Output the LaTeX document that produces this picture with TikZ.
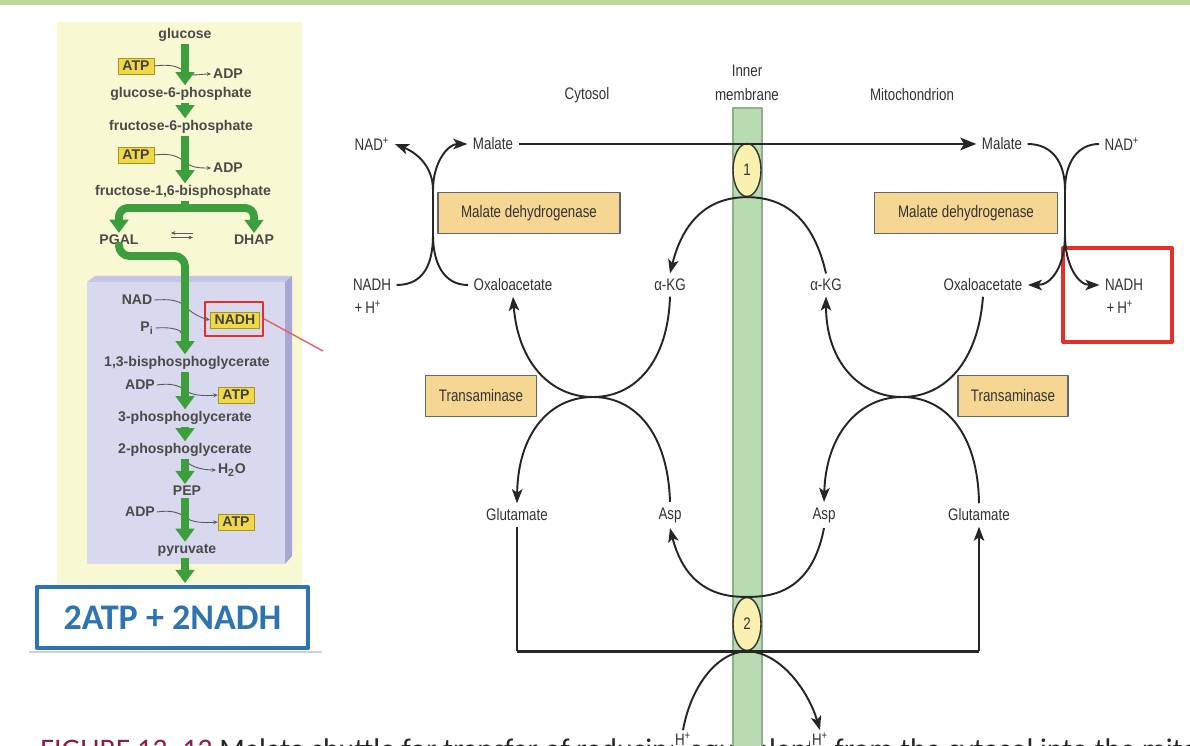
\documentclass[tikz,border=0pt]{standalone}
\usepackage{fontspec}
\setmainfont{Liberation Sans}
\newfontfamily\narrowfont{Liberation Sans}[FakeStretch=0.8]
\newfontfamily\calfont{Carlito}
\usetikzlibrary{arrows.meta,shapes.geometric}
\definecolor{topbar}{HTML}{BCD99A}
\definecolor{panelbg}{HTML}{F8F8D2}
\definecolor{lavface}{HTML}{D8D8EE}
\definecolor{lavtop}{HTML}{C6C6E6}
\definecolor{lavside}{HTML}{A9A7D6}
\definecolor{pathgreen}{HTML}{3C9E3C}
\definecolor{atpyellow}{HTML}{F0D848}
\definecolor{atpedge}{HTML}{A89520}
\definecolor{txtgray}{HTML}{4A4A4A}
\definecolor{hlred}{HTML}{E5302A}
\definecolor{ptrred}{HTML}{E06070}
\definecolor{boxblue}{HTML}{2E74B5}
\definecolor{membgreen}{HTML}{B8DBB2}
\definecolor{membedge}{HTML}{8FAF8A}
\definecolor{enzfill}{HTML}{F6D693}
\definecolor{carrfill}{HTML}{FAF0B0}
\definecolor{captred}{HTML}{8C1C4C}
\tikzset{
  met/.style={font=\fontsize{8}{9}\selectfont\bfseries, text=txtgray, inner sep=1pt},
  atpbox/.style={met, fill=atpyellow, draw=atpedge, inner xsep=2.5pt, inner ysep=1.8pt, text=black!75},
  gflow/.style={draw=pathgreen, line width=4.5pt, line cap=butt, -{Triangle[width=10.5pt,length=7.5pt]}},
  gstem/.style={draw=pathgreen, line width=4.5pt, line cap=butt},
  side/.style={draw=black!65, line width=0.5pt, -{Stealth[length=2.5pt,width=2.2pt]}},
  lbl/.style={font=\narrowfont\fontsize{9.5}{11}\selectfont, text=black!80, inner sep=3pt},
  enzyme/.style={lbl, fill=enzfill, draw=black!60, line width=0.7pt, minimum height=0.82cm},
  carrier/.style={lbl, ellipse, fill=carrfill, draw=black!80, line width=0.8pt,
    minimum width=0.56cm, minimum height=1.06cm, inner sep=0pt},
  rxn/.style={draw=black!85, line width=1.1pt},
  rxnarr/.style={rxn, -{Stealth[length=8pt,width=6pt,inset=2pt]}},
  carry/.style={draw=black!85, line width=1.7pt}
}
\begin{document}
\begin{tikzpicture}[x=0.02cm, y=-0.02cm, line join=round]
\useasboundingbox (0,0) rectangle (1190,746);
\fill[white] (0,0) rectangle (1190,746);
\fill[topbar] (0,0) rectangle (1190,5);

% glycolysis panel
\fill[panelbg] (57,22) rectangle (302,585);
\fill[lavtop] (87,282) -- (95,276) -- (292,276) -- (285,282) -- cycle;
\fill[lavside] (285,282) -- (292,276) -- (292,556) -- (285,564) -- cycle;
\fill[lavface] (87,282) rectangle (285,564);
\coordinate (stem) at (185,0);

\node[met] (glc) at (185,35) {glucose};
\node[atpbox] (atpa) at (136,66) {ATP};
\node[met] (adpa) at (228,74) {ADP};
\node[met] (g6p) at (181,94) {glucose-6-phosphate};
\node[met] (f6p) at (181,127) {fructose-6-phosphate};
\node[atpbox] (atpb) at (136,155) {ATP};
\node[met] (adpb) at (228,168) {ADP};
\node[met] (fbp) at (183,192) {fructose-1,6-bisphosphate};
\node[met] (pgal) at (119,240) {PGAL};
\node[met] (dhap) at (254,240) {DHAP};
\node[met] (nad) at (137,300) {NAD};
\node[met] (pi) at (147,328) {P\textsubscript{i}};
\node[atpbox] (nadh) at (235,320) {NADH};
\node[draw=hlred, line width=1.4pt, minimum width=1.16cm, minimum height=0.68cm] (nadhmark) at (234,319) {};
\node[met] (bpg) at (187,363) {1,3-bisphosphoglycerate};
\node[met] (adpc) at (140,385) {ADP};
\node[atpbox] (atpc) at (236,395) {ATP};
\node[met] (pgathree) at (185,418) {3-phosphoglycerate};
\node[met] (pgatwo) at (185,450) {2-phosphoglycerate};
\node[met] (water) at (232,470) {H\textsubscript{2}O};
\node[met] (pep) at (187,491) {PEP};
\node[met] (adpd) at (140,512) {ADP};
\node[atpbox] (atpd) at (236,522) {ATP};
\node[met] (pyr) at (187,550) {pyruvate};

% side reactions
\draw[side] (atpa.east) .. controls (170,64) and (178,66) .. (185,72) .. controls (192,77) and (200,74) .. (adpa.west);
\draw[side] (atpb.east) .. controls (170,153) and (178,156) .. (185,162) .. controls (192,168) and (200,168) .. (adpb.west);
\draw[side] (nad.east) .. controls (170,299) and (178,300) .. (185,306) .. controls (192,314) and (202,318) .. (nadh.west);
\draw[side] (pi.east) .. controls (170,327) and (178,329) .. (184,334);
\draw[side] (adpc.east) .. controls (170,383) and (178,385) .. (185,390) .. controls (192,396) and (205,396) .. (atpc.west);
\draw[side] (186,461) .. controls (192,468) and (205,470) .. (water.west);
\draw[side] (adpd.east) .. controls (170,510) and (178,512) .. (185,517) .. controls (192,523) and (205,523) .. (atpd.west);
\draw[side] (193,233) -- (171,233);
\draw[side] (171,237.5) -- (193,237.5);

% main pathway
\draw[gflow] (stem |- glc.south) -- (stem |- g6p.north);
\draw[gflow] (stem |- g6p.south) -- (stem |- f6p.north);
\draw[gflow] (stem |- f6p.south) -- (stem |- fbp.north);
\coordinate (split) at (185,208);
\draw[gstem] (stem |- fbp.south) -- (split);
\draw[gflow, rounded corners=5pt] (split) -| (pgal.north);
\draw[gflow, rounded corners=5pt] (split) -| (dhap.north);
\draw[gflow, rounded corners=6pt] (pgal.south) |- (185,256) -- (stem |- bpg.north);
\draw[gflow] (stem |- bpg.south) -- (stem |- pgathree.north);
\draw[gflow] (stem |- pgathree.south) -- (stem |- pgatwo.north);
\draw[gflow] (stem |- pgatwo.south) -- (stem |- pep.north);
\draw[gflow] (stem |- pep.south) -- (stem |- pyr.north);
\draw[gflow] (stem |- pyr.south) -- (185,583);

\coordinate (ptr) at (323,351);
\draw[ptrred, line width=0.8pt] (nadhmark.east) -- (ptr);

\node[draw=boxblue, fill=white, line width=2.3pt, minimum width=5.42cm, minimum height=1.22cm,
  font=\calfont\bfseries\fontsize{20.5}{24}\selectfont, text=boxblue] (total) at (172.5,617.5) {2ATP + 2NADH};
\draw[gray!35, line width=1pt] (29,652) -- (322,652);

% caption, cut by the page edge
\node[anchor=base west, inner sep=0pt, font=\calfont\fontsize{17}{20}\selectfont, text=black!85] (capt) at (40,759)
  {\textcolor{captred}{FIGURE 13–13} Malate shuttle for transfer of reducing equivalents from the cytosol into the mitochondrion.};

% malate shuttle
\fill[membgreen] (733,108) rectangle (762,746);
\draw[membedge, line width=0.6pt] (733,746) -- (733,108) -- (762,108) -- (762,746);

\node[lbl] (cyto) at (587,95) {Cytosol};
\node[lbl, align=center, font=\narrowfont\fontsize{9.5}{14}\selectfont] (inner) at (747,83) {Inner\\membrane};
\node[lbl] (mito) at (912,95) {Mitochondrion};
\node[carrier] (cone) at (747,170) {1};
\node[carrier] (ctwo) at (747,624) {2};
\node[lbl] (malL) at (493,144) {Malate};
\node[lbl] (nadL) at (372,144) {NAD\textsuperscript{+}};
\node[lbl] (malR) at (1002,144) {Malate};
\node[lbl] (nadR) at (1122,144) {NAD\textsuperscript{+}};
\node[enzyme, minimum width=3.64cm] (mdhL) at (529,213) {Malate dehydrogenase};
\node[enzyme, minimum width=3.66cm] (mdhR) at (966,213) {Malate dehydrogenase};
\node[lbl] (nadhL) at (372,285) {NADH};
\node[lbl] (hL) at (368,307) {+\,H\textsuperscript{+}};
\node[lbl] (oaaL) at (513,285) {Oxaloacetate};
\node[lbl] (akgL) at (670,285) {α-KG};
\node[lbl] (akgR) at (826,285) {α-KG};
\node[lbl] (oaaR) at (983,285) {Oxaloacetate};
\node[lbl] (nadhR) at (1124,285) {NADH};
\node[lbl] (hR) at (1120,307) {+\,H\textsuperscript{+}};
\node[draw=hlred, line width=2.3pt, minimum width=2.18cm, minimum height=1.88cm] (markR) at (1117.5,295) {};
\node[enzyme, minimum width=2.22cm] (taL) at (481,396) {Transaminase};
\node[enzyme, minimum width=2.2cm] (taR) at (1013,396) {Transaminase};
\node[lbl] (gluL) at (517,515) {Glutamate};
\node[lbl] (aspL) at (670,515) {Asp};
\node[lbl] (aspR) at (824,515) {Asp};
\node[lbl] (gluR) at (979,515) {Glutamate};
\node[lbl, fill=white, inner sep=1pt] (protL) at (683,739) {H\textsuperscript{+}};
\node[lbl, fill=white, inner sep=1pt] (protR) at (820,739) {H\textsuperscript{+}};

\draw[carry, -{Stealth[length=9pt,width=7pt,inset=2pt]}] (malL) -- (malR);

% malate dehydrogenase, both sides
\draw[rxnarr] (nadhL.east) .. controls (425,285) and (433,262) .. (433,235) -- (433,190) .. controls (433,165) and (415,152) .. (nadL.east);
\draw[rxnarr] (oaaL.west) .. controls (443,285) and (433,262) .. (433,235) -- (433,190) .. controls (433,162) and (448,144) .. (malL.west);
\draw[rxnarr] (malR.east) .. controls (1052,144) and (1065,162) .. (1065,190) -- (1065,235) .. controls (1065,265) and (1052,285) .. (oaaR.east);
\draw[rxnarr] (nadR.west) .. controls (1078,144) and (1065,162) .. (1065,190) -- (1065,235) .. controls (1065,265) and (1078,285) .. (nadhR.west);

% carrier 1
\draw[rxnarr] (akgR.north) .. controls (815,225) and (790,197) .. (cone.south) .. controls (705,197) and (682,225) .. (akgL.north);

% transaminases
\coordinate (tL) at (593,397);
\draw[rxnarr] (akgL.south) .. controls (668,362) and (635,397) .. (tL) .. controls (550,397) and (518,362) .. (oaaL.south);
\draw[rxnarr] (aspL.north) .. controls (668,433) and (635,397) .. (tL) .. controls (550,397) and (518,433) .. (gluL.north);
\coordinate (tR) at (902,397);
\draw[rxnarr] (oaaR.south) .. controls (978,362) and (945,397) .. (tR) .. controls (860,397) and (826,362) .. (akgR.south);
\draw[rxnarr] (gluR.north) .. controls (978,433) and (945,397) .. (tR) .. controls (860,397) and (826,433) .. (aspR.north);

% carrier 2
\draw[rxnarr] (aspR.south) .. controls (815,575) and (790,598) .. (ctwo.north) .. controls (705,598) and (682,575) .. (aspL.south);
\draw[rxn] (gluL.south) -- (gluL.south |- ctwo.south);
\draw[carry] (gluL.south |- ctwo.south) -- (gluR.south |- ctwo.south);
\draw[rxnarr] (gluR.south |- ctwo.south) -- (gluR.south);
\draw[rxnarr] (protL.north) .. controls (690,690) and (715,652) .. (ctwo.south) .. controls (780,652) and (808,690) .. (protR.north);
\end{tikzpicture}
\end{document}
